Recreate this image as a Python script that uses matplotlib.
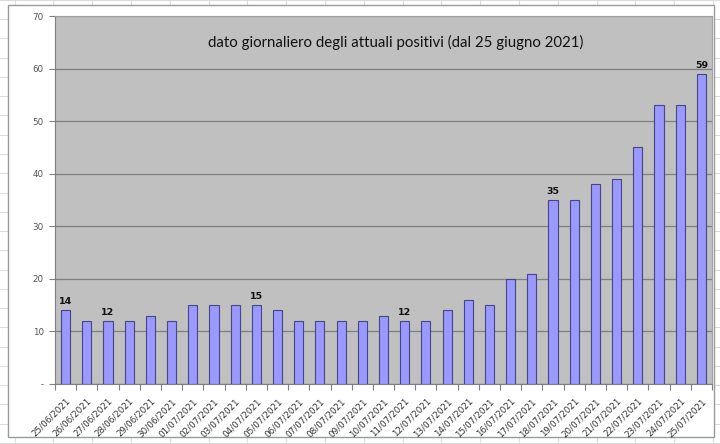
import numpy as np
import matplotlib.pyplot as plt
import matplotlib.transforms as mtransforms
from matplotlib.patches import Rectangle

# --- data ---
dates = ["25/06/2021", "26/06/2021", "27/06/2021", "28/06/2021", "29/06/2021",
         "30/06/2021", "01/07/2021", "02/07/2021", "03/07/2021", "04/07/2021",
         "05/07/2021", "06/07/2021", "07/07/2021", "08/07/2021", "09/07/2021",
         "10/07/2021", "11/07/2021", "12/07/2021", "13/07/2021", "14/07/2021",
         "15/07/2021", "16/07/2021", "17/07/2021", "18/07/2021", "19/07/2021",
         "20/07/2021", "21/07/2021", "22/07/2021", "23/07/2021", "24/07/2021",
         "25/07/2021"]
positivi = [14, 12, 12, 12, 13, 12, 15, 15, 15, 15, 14, 12, 12, 12, 12, 13,
            12, 12, 14, 16, 15, 20, 21, 35, 35, 38, 39, 45, 53, 53, 59]
# indices of bars that carry a value label
labelled = [0, 2, 9, 16, 23, 30]
y_ticks = [0, 10, 20, 30, 40, 50, 60, 70]
y_labels = ["-", "10", "20", "30", "40", "50", "60", "70"]
title = "dato giornaliero degli attuali positivi (dal 25 giugno 2021)"

W, H = 720, 444
fig = plt.figure(figsize=(W / 100, H / 100), dpi=100)

# --- spreadsheet cells behind the chart ---
bg = fig.add_axes([0, 0, 1, 1])
bg.set_xlim(0, W)
bg.set_ylim(H, 0)
bg.axis("off")
for gx in np.arange(14.5, W, 38.8):
    bg.axvline(gx, color="#d9dbdd", lw=0.8)
for gy in np.arange(0, H, 19.25):
    bg.axhline(gy, color="#d9dbdd", lw=0.8)
bg.add_patch(Rectangle((8, 5), 706, 432, facecolor="white",
                       edgecolor="#9a9a9a", lw=1.0, zorder=3))

# --- the chart itself ---
ax = fig.add_axes([55 / W, 1 - 384 / H, (712 - 55) / W, (384 - 16) / H])
ax.set_facecolor("#c0c0c0")
x = np.arange(len(dates))
ax.bar(x, positivi, width=0.43, color="#9999ff", edgecolor="#45458a",
       linewidth=0.8, zorder=3)

for i in labelled:
    ax.text(x[i], positivi[i] + 0.8, str(positivi[i]), ha="center",
            va="bottom", fontsize=6.8, fontweight="bold", color="#111111")

ax.set_xlim(-0.5, len(dates) - 0.5)
ax.set_ylim(0, 70)
ax.set_yticks(y_ticks)
ax.set_yticklabels(y_labels, fontsize=6.3, color="#555555")
ax.yaxis.grid(True, color="#7f7f7f", lw=0.9, zorder=1)
ax.set_axisbelow(True)

# category ticks sit between the bars, labels under the bars
ax.set_xticks(np.arange(-0.5, len(dates)), minor=False)
ax.set_xticklabels([])
ax.set_xticks(x, minor=True)
ax.set_xticklabels(dates, minor=True, rotation=45, ha="right",
                   rotation_mode="anchor", fontsize=6.3, color="#333333")
shift = mtransforms.ScaledTranslation(-3 / 100, 0, fig.dpi_scale_trans)
for lab in ax.get_xticklabels(minor=True):
    lab.set_transform(lab.get_transform() + shift)
ax.tick_params(axis="x", which="minor", length=0, pad=9)
ax.tick_params(axis="x", which="major", length=4, color="#7f7f7f")
ax.tick_params(axis="y", length=4, color="#7f7f7f", pad=4)

for side in ["top", "right"]:
    ax.spines[side].set_color("#a0a0a0")
for side in ["left", "bottom"]:
    ax.spines[side].set_color("#7f7f7f")

ax.text(0.519, 0.929, title, transform=ax.transAxes, ha="center", va="center",
        fontsize=10.8, family=["Lato", "DejaVu Sans"], color="#111111")

fig.savefig("out.png", dpi=100)
